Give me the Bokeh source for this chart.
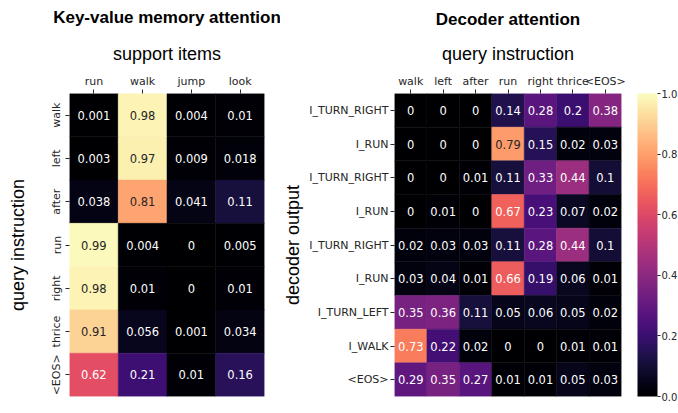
from bokeh.plotting import figure
from bokeh.models import (ColumnDataSource, LinearColorMapper, ColorBar, FixedTicker,
                          Range1d, FactorRange, PrintfTickFormatter)
from bokeh.palettes import Magma256
from bokeh.layouts import row
from bokeh.core.properties import value
from bokeh.embed import file_html
from bokeh.resources import INLINE

# ---------------- data ----------------
kv_support = ["run", "walk", "jump", "look"]
kv_query = ["walk", "left", "after", "run", "right", "thrice", "<EOS>"]
kv_values = [
    [0.001, 0.98, 0.004, 0.01],
    [0.003, 0.97, 0.009, 0.018],
    [0.038, 0.81, 0.041, 0.11],
    [0.99, 0.004, 0.0, 0.005],
    [0.98, 0.01, 0.0, 0.01],
    [0.91, 0.056, 0.001, 0.034],
    [0.62, 0.21, 0.01, 0.16],
]

dec_query = ["walk", "left", "after", "run", "right", "thrice", "<EOS>"]
dec_output = ["I_TURN_RIGHT", "I_RUN", "I_TURN_RIGHT", "I_RUN", "I_TURN_RIGHT",
              "I_RUN", "I_TURN_LEFT", "I_WALK", "<EOS>"]
dec_values = [
    [0, 0, 0, 0.14, 0.28, 0.2, 0.38],
    [0, 0, 0, 0.79, 0.15, 0.02, 0.03],
    [0, 0, 0.01, 0.11, 0.33, 0.44, 0.1],
    [0, 0.01, 0, 0.67, 0.23, 0.07, 0.02],
    [0.02, 0.03, 0.03, 0.11, 0.28, 0.44, 0.1],
    [0.03, 0.04, 0.01, 0.66, 0.19, 0.06, 0.01],
    [0.35, 0.36, 0.11, 0.05, 0.06, 0.05, 0.02],
    [0.73, 0.22, 0.02, 0, 0, 0.01, 0.01],
    [0.29, 0.35, 0.27, 0.01, 0.01, 0.05, 0.03],
]

colorbar_ticks = [0.0, 0.2, 0.4, 0.6, 0.8, 1.0]

# ---------------- styling ----------------
mapper = LinearColorMapper(palette=Magma256, low=0, high=1)
DARK = "#262626"
LABEL_FONT = "Liberation Sans"
TICK_FONT = "DejaVu Sans"


def text_color(v):
    return DARK if v >= 0.75 else "white"


def style_axes(p):
    for ax in p.axis:
        ax.axis_line_color = None
        ax.major_tick_out = 4
        ax.major_tick_in = 0
        ax.minor_tick_line_color = None
        ax.major_tick_line_color = DARK
        ax.major_label_text_color = DARK
        ax.major_label_text_font = TICK_FONT
        ax.major_label_text_font_size = "11px"
        ax.major_label_standoff = 2
        ax.axis_label_text_font = LABEL_FONT
        ax.axis_label_text_font_style = "normal"
        ax.axis_label_text_font_size = "18px"
        ax.axis_label_text_color = "black"
    p.grid.visible = False
    p.outline_line_color = None
    p.title.text_font = LABEL_FONT
    p.title.text_font_size = "17px"
    p.title.text_font_style = "bold"
    p.title.align = "center"
    p.title.text_color = "black"
    p.title.text_line_height = 1.0


# ---------------- left heatmap ----------------
xs, ys, vs, labels, tcols = [], [], [], [], []
for i, q in enumerate(kv_query):
    for j, s in enumerate(kv_support):
        v = kv_values[i][j]
        xs.append(s)
        ys.append(q)
        vs.append(v)
        labels.append("{:.2g}".format(v))
        tcols.append(text_color(v))
src1 = ColumnDataSource(dict(x=xs, y=ys, v=vs, label=labels, tc=tcols))

p1 = figure(x_range=FactorRange(*kv_support), y_range=FactorRange(*reversed(kv_query)),
            frame_width=195, frame_height=303, x_axis_location="above",
            title="Key-value memory attention",
            toolbar_location=None, output_backend="svg",
            min_border_left=69, min_border_right=16, min_border_top=40, min_border_bottom=10)
p1.rect(x="x", y="y", width=1, height=1, source=src1,
        fill_color={"field": "v", "transform": mapper},
        line_color={"field": "v", "transform": mapper}, line_width=0.5)
p1.text(x="x", y="y", text="label", source=src1, text_align="center", text_baseline="middle",
        text_font=value(TICK_FONT), text_font_size="11.5px", text_color="tc")
p1.xaxis.axis_label = "support items"
p1.yaxis.axis_label = "query instruction"
style_axes(p1)
p1.yaxis.major_label_orientation = "vertical"
p1.xaxis.axis_label_standoff = 8
p1.yaxis.axis_label_standoff = 20
p1.title.standoff = 27

# ---------------- right heatmap ----------------
xs, ys, vs, labels, tcols = [], [], [], [], []
for i, o in enumerate(dec_output):
    for j, q in enumerate(dec_query):
        v = dec_values[i][j]
        xs.append(q)
        ys.append(i + 0.5)
        vs.append(v)
        labels.append("{:g}".format(v))
        tcols.append(text_color(v))
src2 = ColumnDataSource(dict(x=xs, y=ys, v=vs, label=labels, tc=tcols))

p2 = figure(x_range=FactorRange(*dec_query), y_range=Range1d(len(dec_output), 0),
            frame_width=227, frame_height=303, x_axis_location="above",
            title="Decoder attention",
            toolbar_location=None, output_backend="svg",
            min_border_left=106, min_border_right=57, min_border_top=40, min_border_bottom=13)
p2.rect(x="x", y="y", width=1, height=1, source=src2,
        fill_color={"field": "v", "transform": mapper},
        line_color={"field": "v", "transform": mapper}, line_width=0.5)
p2.text(x="x", y="y", text="label", source=src2, text_align="center", text_baseline="middle",
        text_font=value(TICK_FONT), text_font_size="11.5px", text_color="tc")
p2.xaxis.axis_label = "query instruction"
p2.yaxis.axis_label = "decoder output"
style_axes(p2)
p2.yaxis.ticker = FixedTicker(ticks=[i + 0.5 for i in range(len(dec_output))])
p2.yaxis.major_label_overrides = {i + 0.5: o for i, o in enumerate(dec_output)}
p2.xaxis.axis_label_standoff = 8
p2.yaxis.axis_label_standoff = 3
p2.title.standoff = 24

cb = ColorBar(color_mapper=mapper, width=20, height=303, padding=0, margin=0,
              location=(16, 0),
              ticker=FixedTicker(ticks=colorbar_ticks),
              formatter=PrintfTickFormatter(format="%.1f"),
              major_tick_out=3, major_tick_in=0, major_tick_line_color=DARK,
              minor_tick_line_color=None, bar_line_color=None,
              label_standoff=1, major_label_text_font=TICK_FONT,
              major_label_text_font_size="10px", major_label_text_color=DARK)
p2.add_layout(cb, "right")

layout = row(p1, p2, styles={"margin-top": "-8px"})
open("out.html", "w").write(file_html(layout, INLINE))
